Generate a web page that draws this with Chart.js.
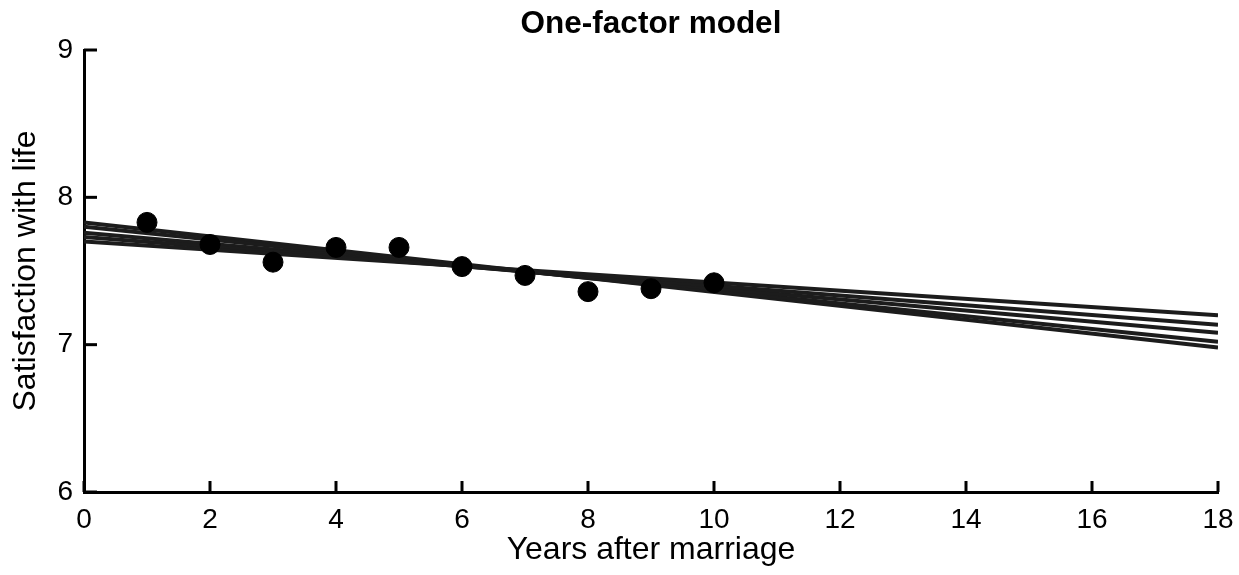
<!DOCTYPE html>
<html>
<head>
<meta charset="utf-8">
<script src="https://cdn.jsdelivr.net/npm/chart.js@4/dist/chart.umd.min.js"></script>
<style>
  html, body { margin: 0; padding: 0; background: #fff; }
  .chart-container { width: 1239px; height: 575px; }
</style>
</head>
<body>
<div class="chart-container">
  <canvas id="chart" width="1239" height="575"></canvas>
</div>
<script>
// observed means, years 1..10
const years = [1, 2, 3, 4, 5, 6, 7, 8, 9, 10];
const satisfaction = [7.83, 7.68, 7.56, 7.66, 7.66, 7.53, 7.47, 7.36, 7.38, 7.42];

// fitted trajectories from the model, year 0 to year 18
const fitYears = [0, 18];
const fitStart = [7.70, 7.73, 7.76, 7.80, 7.83];
const fitEnd = [7.20, 7.135, 7.08, 7.02, 6.98];

const xTicks = [0, 2, 4, 6, 8, 10, 12, 14, 16, 18];
const yTicks = [6, 7, 8, 9];

const FONT = '"Liberation Sans", Arial, Helvetica, sans-serif';

const pointData = years.map((x, i) => ({ x: x, y: satisfaction[i] }));

const fitSets = fitStart.map((s, i) => ({
  type: 'line',
  data: [{ x: fitYears[0], y: s }, { x: fitYears[1], y: fitEnd[i] }],
  borderColor: '#1c1c1c',
  borderWidth: 4,
  pointRadius: 0,
  fill: false,
}));

// tick marks point into the plot, like the printed figure
const inwardTicks = {
  id: 'inwardTicks',
  afterDraw(chart) {
    const { ctx, chartArea, scales } = chart;
    ctx.save();
    ctx.strokeStyle = '#000';
    ctx.lineWidth = 3;
    xTicks.forEach(v => {
      const px = scales.x.getPixelForValue(v);
      ctx.beginPath();
      ctx.moveTo(px, chartArea.bottom);
      ctx.lineTo(px, chartArea.bottom - 11);
      ctx.stroke();
    });
    yTicks.forEach(v => {
      const py = scales.y.getPixelForValue(v);
      ctx.beginPath();
      ctx.moveTo(chartArea.left, py);
      ctx.lineTo(chartArea.left + 13, py);
      ctx.stroke();
    });
    ctx.restore();
  }
};

new Chart(document.getElementById('chart').getContext('2d'), {
  type: 'scatter',
  data: {
    datasets: [{
      data: pointData,
      backgroundColor: '#000',
      borderColor: '#000',
      pointRadius: 10,
      pointHoverRadius: 10,
    }, ...fitSets]
  },
  options: {
    responsive: false,
    animation: false,
    layout: { padding: { left: 0, right: 21, top: 0, bottom: 0 } },
    plugins: {
      legend: { display: false },
      tooltip: { enabled: false },
      title: {
        display: true,
        text: 'One-factor model',
        fullSize: false,
        color: '#000',
        font: { family: FONT, size: 31.5, weight: 'bold' },
        padding: { top: 5.6, bottom: 6.6 },
      }
    },
    scales: {
      x: {
        type: 'linear',
        min: 0,
        max: 18,
        afterFit(scale) {
          scale.height = 83;
          scale.paddingRight = 0;
        },
        afterBuildTicks(scale) { scale.ticks = xTicks.map(v => ({ value: v })); },
        grid: { display: false, drawTicks: false },
        border: { display: true, color: '#000', width: 3 },
        ticks: { color: '#000', padding: 11, font: { family: FONT, size: 28 } },
        title: {
          display: true,
          text: 'Years after marriage',
          color: '#000',
          font: { family: FONT, size: 32 },
          padding: { top: 0, bottom: 5.8 },
        }
      },
      y: {
        type: 'linear',
        min: 6,
        max: 9,
        afterFit(scale) { scale.width = 84; },
        afterBuildTicks(scale) { scale.ticks = yTicks.map(v => ({ value: v })); },
        grid: { display: false, drawTicks: false },
        border: { display: true, color: '#000', width: 3 },
        ticks: { color: '#000', padding: 11, font: { family: FONT, size: 28 } },
        title: {
          display: true,
          text: 'Satisfaction with life',
          color: '#000',
          font: { family: FONT, size: 32 },
          padding: { top: 7.3, bottom: 0 },
        }
      }
    }
  },
  plugins: [inwardTicks]
});
</script>
</body>
</html>
